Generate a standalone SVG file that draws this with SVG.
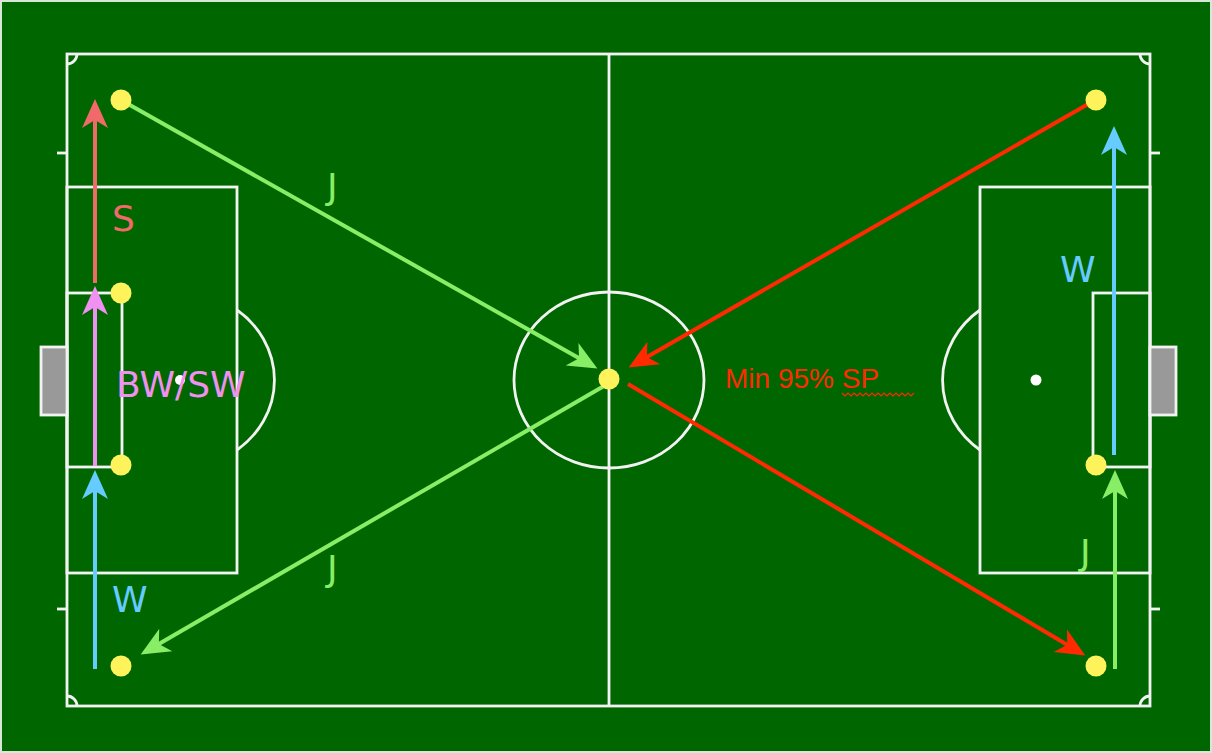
<svg xmlns="http://www.w3.org/2000/svg" width="1212" height="753" viewBox="0 0 1212 753">
<style>
.ln{fill:none;stroke:#f2f2f2;stroke-width:2.8}
.goal{fill:#999999;stroke:#f2f2f2;stroke-width:2.8}
.dot{fill:#fff35c}
.lbl{font-family:"DejaVu Sans",sans-serif;font-size:36px}
.arr{fill:none;stroke-width:4}
</style>
<defs>
<marker id="mG" markerUnits="userSpaceOnUse" viewBox="-26 -14 32 28" markerWidth="32" markerHeight="28" refX="0" refY="0" orient="auto"><path d="M5,0 L-24,-13 L-16,0 L-24,13 Z" fill="#88ee66"/></marker>
<marker id="mR" markerUnits="userSpaceOnUse" viewBox="-26 -14 32 28" markerWidth="32" markerHeight="28" refX="0" refY="0" orient="auto"><path d="M5,0 L-24,-13 L-16,0 L-24,13 Z" fill="#ff2a00"/></marker>
<marker id="mS" markerUnits="userSpaceOnUse" viewBox="-26 -14 32 28" markerWidth="32" markerHeight="28" refX="0" refY="0" orient="auto"><path d="M5,0 L-24,-13 L-16,0 L-24,13 Z" fill="#f06a6a"/></marker>
<marker id="mP" markerUnits="userSpaceOnUse" viewBox="-26 -14 32 28" markerWidth="32" markerHeight="28" refX="0" refY="0" orient="auto"><path d="M5,0 L-24,-13 L-16,0 L-24,13 Z" fill="#f090f0"/></marker>
<marker id="mB" markerUnits="userSpaceOnUse" viewBox="-26 -14 32 28" markerWidth="32" markerHeight="28" refX="0" refY="0" orient="auto"><path d="M5,0 L-24,-13 L-16,0 L-24,13 Z" fill="#66ccff"/></marker>
</defs>
<rect x="0" y="0" width="1212" height="753" fill="#006600"/>
<rect x="1" y="1" width="1210" height="751" fill="none" stroke="#d8e8d8" stroke-width="2"/>
<g id="pitch">
<rect class="ln" x="67" y="54" width="1083" height="652"/>
<line class="ln" x1="609" y1="54" x2="609" y2="706"/>
<ellipse class="ln" cx="609" cy="380" rx="95" ry="88"/>
<rect class="ln" x="67" y="187" width="170" height="386"/>
<rect class="ln" x="67" y="293" width="55" height="174"/>
<rect class="goal" x="41" y="347" width="26" height="68"/>
<path class="ln" d="M237,310 A95,88 0 0 1 237,450"/>
<circle cx="180" cy="380" r="5" fill="#ffffff"/>
<rect class="ln" x="980" y="187" width="170" height="386"/>
<rect class="ln" x="1093" y="293" width="57" height="174"/>
<rect class="goal" x="1150" y="347" width="26" height="68"/>
<path class="ln" d="M980,310 A95,88 0 0 0 980,450"/>
<circle cx="1036" cy="380" r="5.5" fill="#ffffff"/>
<path class="ln" d="M77,54 A10,10 0 0 1 67,64"/>
<path class="ln" d="M67,696 A10,10 0 0 1 77,706"/>
<path class="ln" d="M1140,54 A10,10 0 0 0 1150,64"/>
<path class="ln" d="M1150,696 A10,10 0 0 0 1140,706"/>
<line class="ln" x1="57" y1="153" x2="67" y2="153"/>
<line class="ln" x1="57" y1="609" x2="67" y2="609"/>
<line class="ln" x1="1150" y1="153" x2="1160" y2="153"/>
<line class="ln" x1="1150" y1="609" x2="1160" y2="609"/>
</g>
<g id="connectors">
<line class="arr" stroke="#88ee66" x1="121" y1="100" x2="593" y2="366" marker-end="url(#mG)"/>
<line class="arr" stroke="#88ee66" x1="604" y1="386" x2="145" y2="652" marker-end="url(#mG)"/>
<line class="arr" stroke="#ff2a00" x1="1090" y1="103" x2="633" y2="365" marker-end="url(#mR)"/>
<line class="arr" stroke="#ff2a00" x1="628" y1="384" x2="1081" y2="653" marker-end="url(#mR)"/>
<line class="arr" stroke="#f06a6a" x1="95" y1="283" x2="95" y2="104" marker-end="url(#mS)"/>
<line class="arr" stroke="#f090f0" x1="95" y1="466" x2="95" y2="291" marker-end="url(#mP)"/>
<line class="arr" stroke="#66ccff" x1="95" y1="669" x2="95" y2="475" marker-end="url(#mB)"/>
<line class="arr" stroke="#66ccff" x1="1114" y1="455" x2="1114" y2="131" marker-end="url(#mB)"/>
<line class="arr" stroke="#88ee66" x1="1115" y1="669" x2="1115" y2="475" marker-end="url(#mG)"/>
</g>
<g id="players">
<circle class="dot" cx="121" cy="100" r="10.5"/>
<circle class="dot" cx="121" cy="293" r="10.5"/>
<circle class="dot" cx="121" cy="465" r="10.5"/>
<circle class="dot" cx="121" cy="666" r="10.5"/>
<circle class="dot" cx="609" cy="379" r="10.5"/>
<circle class="dot" cx="1096" cy="100" r="10.5"/>
<circle class="dot" cx="1096" cy="465" r="10.5"/>
<circle class="dot" cx="1096" cy="666" r="10.5"/>
</g>
<g id="labels">
<text class="lbl" x="112" y="231" fill="#f06a6a">S</text>
<text class="lbl" x="116" y="397" fill="#f090f0" font-size="39">BW/SW</text>
<text class="lbl" x="112" y="612" fill="#66ccff">W</text>
<text class="lbl" x="327" y="199" fill="#88ee66">J</text>
<text class="lbl" x="327" y="581" fill="#88ee66">J</text>
<text class="lbl" x="1060" y="282" fill="#66ccff">W</text>
<text class="lbl" x="1080" y="565" fill="#88ee66">J</text>
<text x="725" y="388" fill="#ff2a00" font-family="Liberation Sans, Arial, sans-serif" font-size="28">Min 95% SP</text>
<path d="M842,393 l3,3 l3,-3 l3,3 l3,-3 l3,3 l3,-3 l3,3 l3,-3 l3,3 l3,-3 l3,3 l3,-3 l3,3 l3,-3 l3,3 l3,-3 l3,3 l3,-3 l3,3 l3,-3 l3,3 l3,-3 l3,3 l3,-3" fill="none" stroke="#ff2a00" stroke-width="1.2"/>
</g>
</svg>
